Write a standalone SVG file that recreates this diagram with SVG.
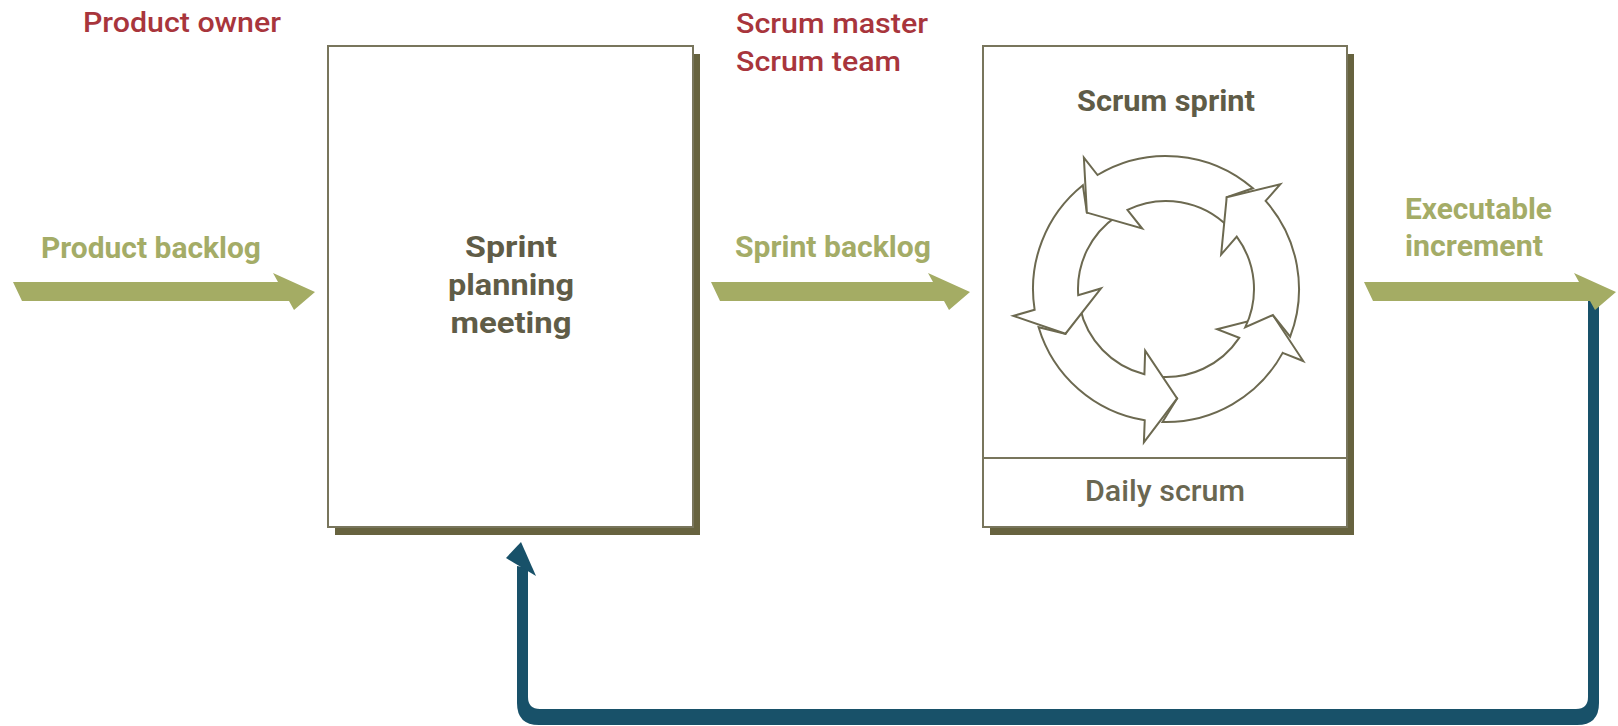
<svg xmlns="http://www.w3.org/2000/svg" width="1618" height="726" viewBox="0 0 1618 726">
  <style>
    .role { font-family: Roboto, "Liberation Sans", sans-serif; font-size: 28px; font-weight: 500; fill: #a8353c; }
    .flow { font-family: Roboto, "Liberation Sans", sans-serif; font-size: 29px; font-weight: 700; fill: #a4ac67; }
    .title { font-family: Roboto, "Liberation Sans", sans-serif; font-size: 29px; font-weight: 700; fill: #5f5c47; }
    .sub { font-family: Roboto, "Liberation Sans", sans-serif; font-size: 29px; font-weight: 500; fill: #6a6751; }
    .shadow { fill: #67633f; }
    .box { fill: #ffffff; stroke: #78755c; stroke-width: 2; }
    .fat { fill: #a4ac64; }
    .loop { fill: #185169; }
    .cycle { fill: #ffffff; stroke: #6c6950; stroke-width: 2; stroke-linejoin: miter; }
  </style>

  <rect width="1618" height="726" fill="#ffffff"/>

  <!-- role labels -->
  <text class="role" x="83" y="32" textLength="198" lengthAdjust="spacingAndGlyphs">Product owner</text>
  <text class="role" x="736" y="33" textLength="192" lengthAdjust="spacingAndGlyphs">Scrum master</text>
  <text class="role" x="736" y="71" textLength="165" lengthAdjust="spacingAndGlyphs">Scrum team</text>

  <!-- connectors -->
  <g id="connectors">
    <!-- feedback loop from the increment back to planning -->
    <path class="loop" d="M 517 566 L 517 703 Q 517 725 539 725 L 1577 725 Q 1599 725 1599 703 L 1599 298 L 1588 298 L 1588 697 Q 1588 709 1576 709 L 540 709 Q 528 709 528 697 L 528 568 Z"/>
    <polygon class="loop" points="521,542 506,558 536,576"/>
    <!-- product backlog -->
    <polygon class="fat" points="13,282 278,282 273,273 315,292 294,310 289,301 22,301"/>
    <!-- sprint backlog -->
    <polygon class="fat" points="711,282 933,282 928,273 970,292 949,310 944,301 720,301"/>
    <!-- executable increment -->
    <polygon class="fat" points="1364,282 1579,282 1574,273 1616,292 1595,310 1590,301 1373,301"/>
    <text class="flow" x="41" y="258" textLength="220" lengthAdjust="spacingAndGlyphs">Product backlog</text>
    <text class="flow" x="735" y="257" textLength="196" lengthAdjust="spacingAndGlyphs">Sprint backlog</text>
    <text class="flow" x="1405" y="219" textLength="147" lengthAdjust="spacingAndGlyphs">Executable</text>
    <text class="flow" x="1405" y="256" textLength="138" lengthAdjust="spacingAndGlyphs">increment</text>
  </g>

  <!-- sprint planning meeting -->
  <g id="planning">
    <rect class="shadow" x="335" y="54" width="365" height="481"/>
    <rect class="box" x="328" y="46" width="365" height="481"/>
    <text class="title" x="511" y="257" text-anchor="middle" textLength="92" lengthAdjust="spacingAndGlyphs">Sprint</text>
    <text class="title" x="511" y="295" text-anchor="middle" textLength="126" lengthAdjust="spacingAndGlyphs">planning</text>
    <text class="title" x="511" y="333" text-anchor="middle" textLength="121" lengthAdjust="spacingAndGlyphs">meeting</text>
  </g>

  <!-- scrum sprint with daily scrum -->
  <g id="sprint">
    <rect class="shadow" x="990" y="54" width="364" height="481"/>
    <rect class="box" x="983" y="46" width="364" height="481"/>
    <line x1="983" y1="458" x2="1347" y2="458" stroke="#78755c" stroke-width="2"/>
    <text class="title" x="1166" y="111" text-anchor="middle" textLength="178" lengthAdjust="spacingAndGlyphs">Scrum sprint</text>
    <text class="sub" x="1165" y="501" text-anchor="middle" textLength="160" lengthAdjust="spacingAndGlyphs">Daily scrum</text>
    <!-- five curved arrows; each head base sits at its rotation angle, the tail notch takes the next head's tip -->
    <g id="cycle" transform="translate(1166 289)">
      <path class="cycle" transform="rotate(30.2)" d="M 132.95 -3.48 L 154.85 -6.76 L 105.47 -31.24 L 64.37 9.05 L 87.84 5.37 A 88 88 0 0 1 35.79 80.39 L 64.66 88.99 L 63.87 116.66 A 133 133 0 0 0 132.95 -3.48 Z"/>
      <path class="cycle" transform="rotate(100.7)" d="M 132.95 -3.48 L 154.85 -6.76 L 105.47 -31.24 L 64.37 9.05 L 87.84 5.37 A 88 88 0 0 1 33.96 81.18 L 62.62 90.44 L 61.21 118.08 A 133 133 0 0 0 132.95 -3.48 Z"/>
      <path class="cycle" transform="rotate(172.5)" d="M 132.95 -3.48 L 154.85 -6.76 L 105.47 -31.24 L 64.37 9.05 L 87.84 5.37 A 88 88 0 0 1 39.27 78.75 L 68.48 86.09 L 68.90 113.76 A 133 133 0 0 0 132.95 -3.48 Z"/>
      <path class="cycle" transform="rotate(240.5)" d="M 132.95 -3.48 L 154.85 -6.76 L 105.47 -31.24 L 64.37 9.05 L 87.84 5.37 A 88 88 0 0 1 22.78 85.00 L 49.94 98.01 L 44.83 125.22 A 133 133 0 0 0 132.95 -3.48 Z"/>
      <path class="cycle" transform="rotate(320)" d="M 132.95 -3.48 L 154.85 -6.76 L 105.47 -31.24 L 64.37 9.05 L 87.84 5.37 A 88 88 0 0 1 36.21 80.20 L 65.12 88.65 L 64.48 116.32 A 133 133 0 0 0 132.95 -3.48 Z"/>
    </g>
  </g>
</svg>
